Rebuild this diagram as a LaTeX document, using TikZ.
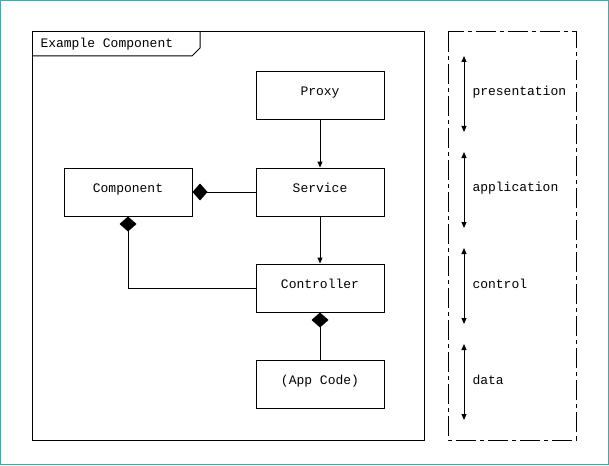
\documentclass[tikz,border=0pt]{standalone}
\usepackage{fontspec}
\setmainfont{Liberation Mono}
\usepackage{tikz}
\usetikzlibrary{arrows.meta}

\definecolor{frameColor}{RGB}{90,160,160}

\tikzset{
  block/.style={draw,line width=1pt,minimum width=128pt,minimum height=48pt,inner sep=0pt,text height=5pt,text depth=5pt,font=\fontsize{13}{15}\selectfont},
  label/.style={anchor=west,inner sep=0pt,font=\fontsize{13}{15}\selectfont},
  owns/.style={{Diamond[length=15pt,width=17pt]}-},
  layerbox/.style={line width=1pt,dash pattern=on 20pt off 4pt on 4pt off 4pt}
}

\begin{document}
\begin{tikzpicture}[x=1pt,y=-1pt,line width=1pt,>={Triangle[length=6pt,width=5pt]}]
\useasboundingbox (0,0) rectangle (609,465);
\draw[color=frameColor] (0.5,0.5) rectangle (608.5,464.5);
% component frame with its tab
\draw (32,32) rectangle (424,440);
\draw (32,56) -- (192,56) -- (200,48) -- (200,32);
\node[label] (title) at (40,44) {Example Component};
% boxes
\node[block] (proxy) at (320,96) {Proxy};
\node[block] (comp) at (128,192) {Component};
\node[block] (serv) at (320,192) {Service};
\node[block] (ctrl) at (320,288) {Controller};
\node[block] (app) at (320,384) {(App Code)};
\draw[->] (proxy) -- (serv);
\draw[->] (serv) -- (ctrl);
\draw[owns] (comp.east) -- (serv.west);
\draw[owns] (comp.south) |- (ctrl.west);
\draw[owns] (ctrl.south) -- (app.north);
% layers
\draw[layerbox] (448,32) rectangle (576,440);
\foreach \lbl/\y in {presentation/92,application/188,control/284,data/380}
{
  \coordinate (\lbl-top) at (464,\y-36);
  \coordinate (\lbl-bot) at (464,\y+40);
  \draw[<->] (\lbl-top) -- (\lbl-bot);
  \node[label] (\lbl) at (472,\y) {\lbl};
}
\end{tikzpicture}
\end{document}
